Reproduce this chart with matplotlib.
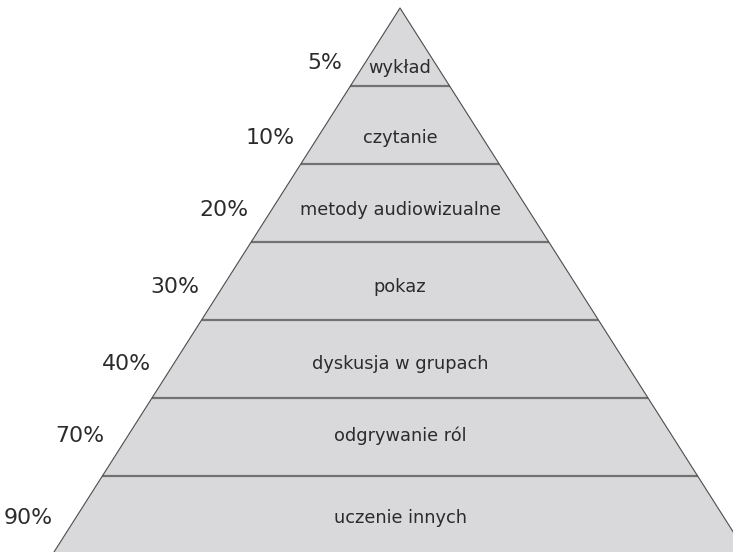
import matplotlib.pyplot as plt
from matplotlib.patches import Polygon

# pyramid levels, top to bottom
levels = ['wykład', 'czytanie', 'metody audiowizualne', 'pokaz',
          'dyskusja w grupach', 'odgrywanie ról', 'uczenie innych']
retention = [5, 10, 20, 30, 40, 70, 90]

# layout (pixel units, y grows downward)
W, H = 733, 552
apex_x, apex_y = 400, 8
band_h = 78
slope = 0.636           # horizontal half-width per pixel of height
text_dy = [21, 13, 7, 6, 5, -1, 3]
pct_dy = [-5, 0, 0, 0, 0, 0, 0]
pct_gap = 23

fill = '#d9d9db'
divider = '#727272'
side = '#4d4d4d'
txt = '#2b2b2b'


def half_width(y):
    return slope * (y - apex_y)


fig = plt.figure(figsize=(W / 100, H / 100), dpi=100)
ax = fig.add_axes([0, 0, 1, 1])
ax.set_xlim(0, W)
ax.set_ylim(H, 0)
ax.axis('off')

n = len(levels)
for i, (name, pct) in enumerate(zip(levels, retention)):
    y0 = apex_y + i * band_h
    y1 = y0 + band_h
    w0, w1 = half_width(y0), half_width(y1)
    poly = Polygon([(apex_x - w0, y0), (apex_x + w0, y0),
                    (apex_x + w1, y1), (apex_x - w1, y1)],
                   closed=True, facecolor=fill, edgecolor='none')
    ax.add_patch(poly)
    if i > 0:
        ax.plot([apex_x - w0, apex_x + w0], [y0, y0], color=divider, lw=1.6,
                solid_capstyle='butt')

    ty = y0 + band_h / 2 + text_dy[i]
    ax.text(apex_x, ty, name, ha='center', va='center', fontsize=12.8,
            color=txt)
    py = ty + pct_dy[i]
    ax.text(apex_x - half_width(py) - pct_gap, py, f'{pct}%', ha='right',
            va='center', fontsize=15.8, color=txt)

# outer sides
yb = apex_y + n * band_h
ax.plot([apex_x - half_width(yb), apex_x, apex_x + half_width(yb)],
        [yb, apex_y, yb], color=side, lw=0.8)

fig.savefig('out.png', dpi=100)
